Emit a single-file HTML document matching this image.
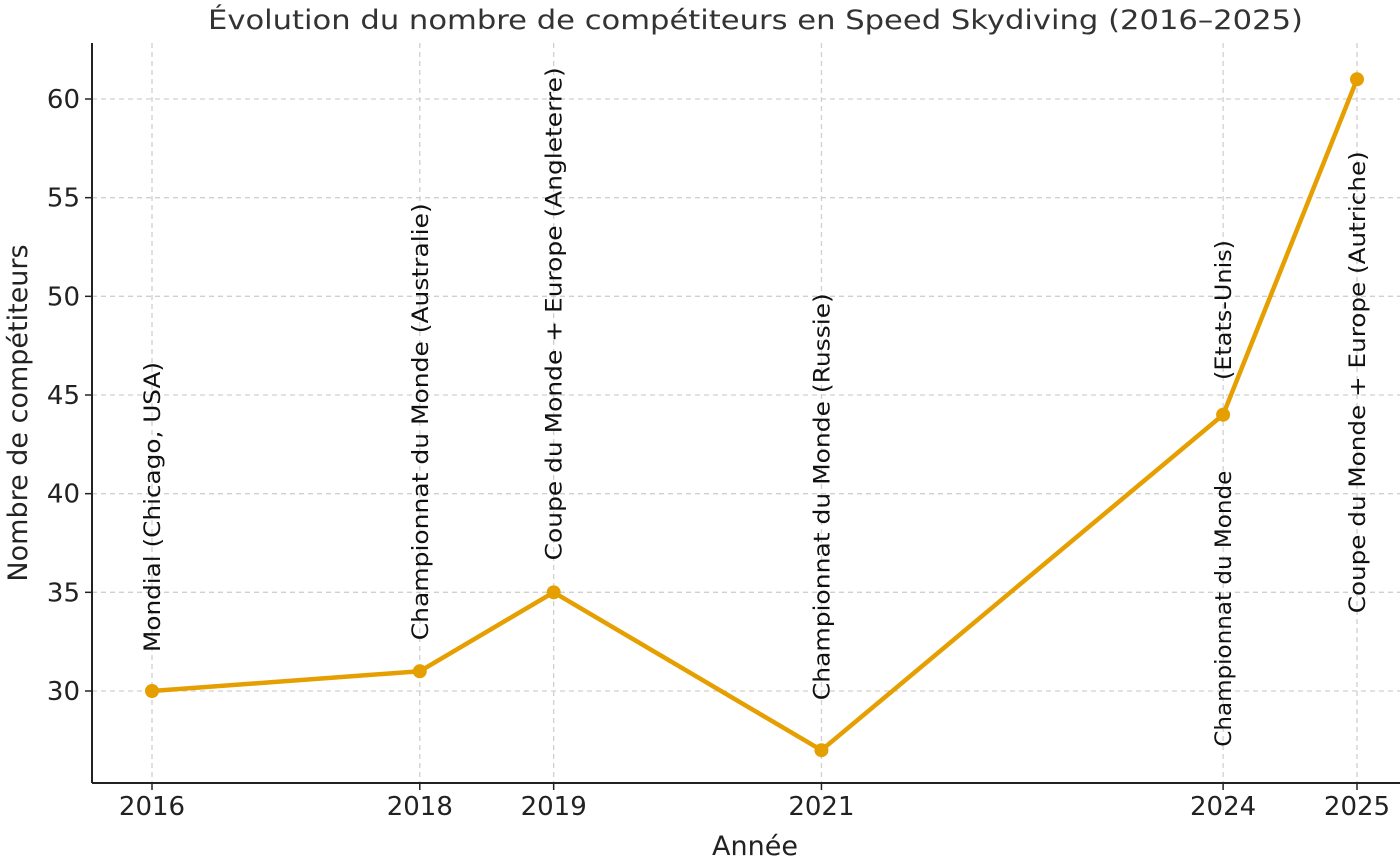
<!DOCTYPE html>
<html><head><meta charset="utf-8"><style>
html,body{margin:0;padding:0;background:#fff;}
svg{display:block;font-family:"DejaVu Sans","Liberation Sans",sans-serif;}
</style></head><body>
<svg id="chart" width="1400" height="858" viewBox="0 0 1400 858" xmlns="http://www.w3.org/2000/svg">
<text x="208" y="29" font-size="27" fill="#333" textLength="1095" lengthAdjust="spacingAndGlyphs">Évolution du nombre de compétiteurs en Speed Skydiving (2016–2025)</text>
<g id="grid"></g>
<g id="axes"></g>
<g id="series"></g>
<g id="labels"></g>
<text x="755" y="855" text-anchor="middle" font-size="27" fill="#222">Année</text>
<text transform="translate(27,413) rotate(-90)" text-anchor="middle" font-size="27" fill="#222">Nombre de compétiteurs</text>
</svg>
<script>
const years = [2016, 2018, 2019, 2021, 2024, 2025];
const competitors = [30, 31, 35, 27, 44, 61];
const yTicks = [30, 35, 40, 45, 50, 55, 60];
const eventLabels = ["Mondial (Chicago, USA)", "Championnat du Monde (Australie)", "Coupe du Monde + Europe (Angleterre)", "Championnat du Monde (Russie)", "Championnat du Monde", "Coupe du Monde + Europe (Autriche)"];
const ns = "http://www.w3.org/2000/svg";
const L = 92, R = 1400, T = 43, B = 783;
const x = v => 152 + (v - 2016) * (1357 - 152) / 9;
const y = v => 691 - (v - 30) * (691 - 99) / 30;
function mk(tag, attrs, parent){const e=document.createElementNS(ns,tag);for(const k in attrs)e.setAttribute(k,attrs[k]);parent.appendChild(e);return e;}
const grid = document.getElementById('grid'), axes = document.getElementById('axes'), series = document.getElementById('series'), labels = document.getElementById('labels');
yTicks.forEach(t=>{
  const g = mk('line',{x1:L,x2:R,y1:y(t),y2:y(t),stroke:'#d0d0d0','stroke-width':1.3,'stroke-dasharray':'5,4'},grid);
  
  
  const tk = mk('line',{x1:L-7,x2:L,y1:y(t),y2:y(t),stroke:'#222','stroke-width':1.5},axes);
  
  
  const tl = mk('text',{x:L-12,y:y(t)+9,'text-anchor':'end','font-size':26,fill:'#222'},axes);
  tl.textContent = t;
  
  
});
years.forEach(yr=>{
  const g = mk('line',{x1:x(yr),x2:x(yr),y1:T,y2:B,stroke:'#d0d0d0','stroke-width':1.3,'stroke-dasharray':'5,4'},grid);
  
  
  const tk = mk('line',{x1:x(yr),x2:x(yr),y1:B,y2:B+7,stroke:'#222','stroke-width':1.5},axes);
  
  
  const tl = mk('text',{x:x(yr),y:B+32,'text-anchor':'middle','font-size':26,fill:'#222'},axes);
  tl.textContent = yr;
  
  
});
const sp1 = mk('line',{x1:L,x2:L,y1:T,y2:B,stroke:'#222','stroke-width':2},axes);


const sp2 = mk('line',{x1:L,x2:R,y1:B,y2:B,stroke:'#222','stroke-width':2},axes);


const pl = mk('polyline',{points:years.map((yr,i)=>x(yr)+','+y(competitors[i])).join(' '),fill:'none',stroke:'#E69F00','stroke-width':4.5,'stroke-linejoin':'round'},series);


years.forEach((yr,i)=>{
  const c = mk('circle',{cx:x(yr),cy:y(competitors[i]),r:7,fill:'#E69F00'},series);
  
  
});
const lblOffsets = [39, 31, 32, 50, -332, -534];
const lblLens = [290, 437, 493, 407, 276, 462];
years.forEach((yr,i)=>{
  const px = x(yr)+8, py = y(competitors[i]) - lblOffsets[i];
  const t = mk('text',{transform:`translate(${px},${py}) rotate(-90)`,'font-size':22,fill:'#111',textLength:lblLens[i],lengthAdjust:'spacingAndGlyphs'},labels);
  t.textContent = eventLabels[i];
  
  
});
const ex = mk('text',{transform:`translate(${x(2024)+8},380) rotate(-90)`,'font-size':22,fill:'#111',textLength:140,lengthAdjust:'spacingAndGlyphs'},labels);
ex.textContent = "(Etats-Unis)";


</script>
</body></html>
